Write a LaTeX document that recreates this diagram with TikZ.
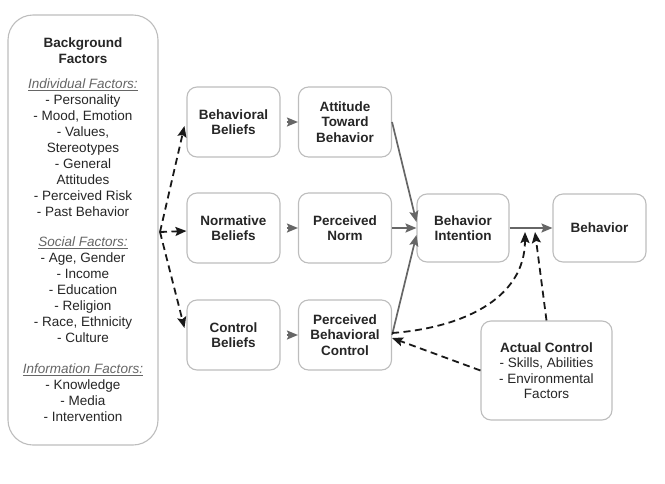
\documentclass[tikz,border=0pt]{standalone}
\usepackage{fontspec}
\setmainfont{Liberation Sans}
\usetikzlibrary{arrows.meta}
\definecolor{txt}{HTML}{262626}
\definecolor{edge}{HTML}{BDBDBD}
\definecolor{flow}{HTML}{666666}
\newcommand{\hd}[1]{\textcolor{flow}{\textit{\underline{#1}}}}

\begin{document}
\begin{tikzpicture}[x=1pt,y=-1pt,
    box/.style={draw=edge,line width=1.1pt,rounded corners=10pt,fill=white,text=txt,
        align=center,font=\fontsize{13.5}{15.5}\selectfont\bfseries,
        minimum width=93pt,minimum height=70pt,inner sep=2pt},
    flowarrow/.style={-{Stealth[length=11pt,width=9pt,inset=2pt]},draw=flow,line width=1.7pt},
    dasharrow/.style={-{Stealth[length=11pt,width=9pt,inset=2pt]},draw=black!90,line width=1.8pt,dash pattern=on 7pt off 4.5pt}]
    \useasboundingbox(0,0)rectangle(665,483);

    \node[box,rounded corners=25pt,minimum width=150pt,minimum height=430pt,
        font=\fontsize{13.5}{16}\selectfont](bg)at(83,230){%
        \textbf{Background}\\\textbf{Factors}\\[9pt]
        \hd{Individual Factors:}\\- Personality\\- Mood, Emotion\\- Values,\\Stereotypes\\- General\\Attitudes\\- Perceived Risk\\- Past Behavior\\[14pt]
        \hd{Social Factors:}\\- Age, Gender\\- Income\\- Education\\- Religion\\- Race, Ethnicity\\- Culture\\[15pt]
        \hd{Information Factors:}\\- Knowledge\\- Media\\- Intervention};

    \node[box](bb)at(233.5,122){Behavioral\\Beliefs};
    \node[box](att)at(345,122){Attitude\\Toward\\Behavior};
    \node[box](nb)at(233.5,228){Normative\\Beliefs};
    \node[box](pn)at(345,228){Perceived\\Norm};
    \node[box](cb)at(233.5,335){Control\\Beliefs};
    \node[box](pbc)at(345,335){Perceived\\Behavioral\\Control};
    \node[box,minimum width=92pt,minimum height=68pt](bi)at(463,228){Behavior\\Intention};
    \node[box,minimum height=68pt](beh)at(599.5,228){Behavior};
    \node[box,minimum width=131pt,minimum height=99pt](ac)at(546.5,370.5){Actual Control\\
        \mdseries - Skills, Abilities\\\mdseries - Environmental\\\mdseries Factors};

    \coordinate(src)at(160,232);
    \coordinate(t1)at(525,232);
    \coordinate(t2)at(535,232);

    \draw[dasharrow](src)--([xshift=-2pt,yshift=-4pt]bb.west);
    \draw[dasharrow](src)--([yshift=-3pt]nb.west);
    \draw[dasharrow](src)--([xshift=-2pt,yshift=7pt]cb.west);

    \draw[flowarrow,shorten <=6pt](bb)--(att);
    \draw[flowarrow,shorten <=6pt](nb)--(pn);
    \draw[flowarrow,shorten <=6pt](cb)--(pbc);
    \draw[flowarrow](att.east)--([yshift=6pt]bi.west);
    \draw[flowarrow](pn)--(bi);
    \draw[flowarrow](pbc.east)--([yshift=-7pt]bi.west);
    \draw[flowarrow](bi)--(beh);

    \draw[dasharrow]([yshift=2pt]pbc.east)..controls(460,328)and(525,300)..(t1);
    \draw[dasharrow](ac.north)--(t2);
    \draw[dasharrow](ac.west)--([yshift=-3pt]pbc.east);
\end{tikzpicture}
\end{document}
